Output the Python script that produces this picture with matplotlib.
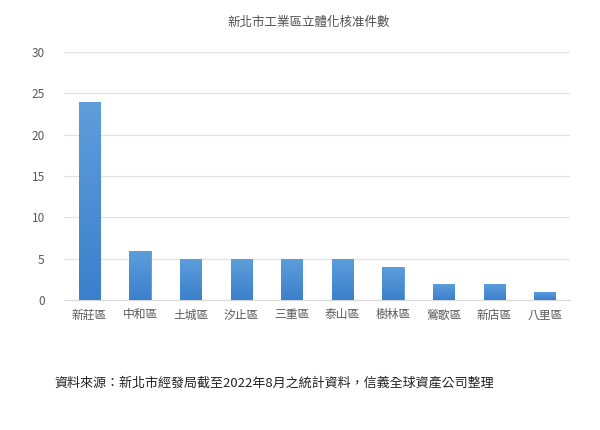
import numpy as np
import matplotlib
matplotlib.use("Agg")
import matplotlib.pyplot as plt
from matplotlib.colors import LinearSegmentedColormap

plt.rcParams['font.family'] = ['Noto Sans CJK TC', 'DejaVu Sans']

districts = ['新莊區', '中和區', '土城區', '汐止區', '三重區',
             '泰山區', '樹林區', '鶯歌區', '新店區', '八里區']
counts = [24, 6, 5, 5, 5, 5, 4, 2, 2, 1]
yticks = [0, 5, 10, 15, 20, 25, 30]

title = '新北市工業區立體化核准件數'
source = '資料來源：新北市經發局截至2022年8月之統計資料，信義全球資產公司整理'


def main():
	fig = plt.figure(figsize=(6, 4.3), dpi=100)
	ax = fig.add_axes([0.107, 0.302, 0.843, 0.577])

	x = np.arange(len(districts))
	bars = ax.bar(x, counts, width=0.42, color='#4A8FD6', edgecolor='#5C9CDA',
		linewidth=0.6, zorder=3)

	# vertical gradient inside each bar
	cmap = LinearSegmentedColormap.from_list('blu', ['#3B80CC', '#5E9EDB'])
	grad = np.linspace(0, 1, 256).reshape(-1, 1)
	for b in bars:
		x0, y0 = b.get_x(), b.get_y()
		w, h = b.get_width(), b.get_height()
		im = ax.imshow(grad, cmap=cmap, aspect='auto', origin='lower',
			extent=[x0, x0 + w, y0, y0 + h], zorder=3.5)
		im.set_clip_path(b)

	ax.set_xlim(-0.5, len(districts) - 0.5)
	ax.set_ylim(0, 30)
	ax.set_yticks(yticks)
	ax.set_xticks(x)
	ax.set_xticklabels(districts)
	ax.tick_params(axis='both', length=0, labelsize=8.5, colors='#595959')
	ax.tick_params(axis='x', pad=6)
	ax.tick_params(axis='y', pad=14)
	ax.yaxis.grid(True, color='#E3E3E3', linewidth=0.9, zorder=0)
	for s in ['top', 'right', 'left']:
		ax.spines[s].set_visible(False)
	ax.spines['bottom'].set_color('#D9D9D9')

	fig.text(0.515, 0.948, title, ha='center', va='center', fontsize=9,
		color='#505050', fontweight='medium')
	fig.text(0.09, 0.108, source, ha='left', va='center', fontsize=9.4,
		color='#222222')

	fig.savefig('out.png', dpi=100)


if __name__ == "__main__":
	main()
